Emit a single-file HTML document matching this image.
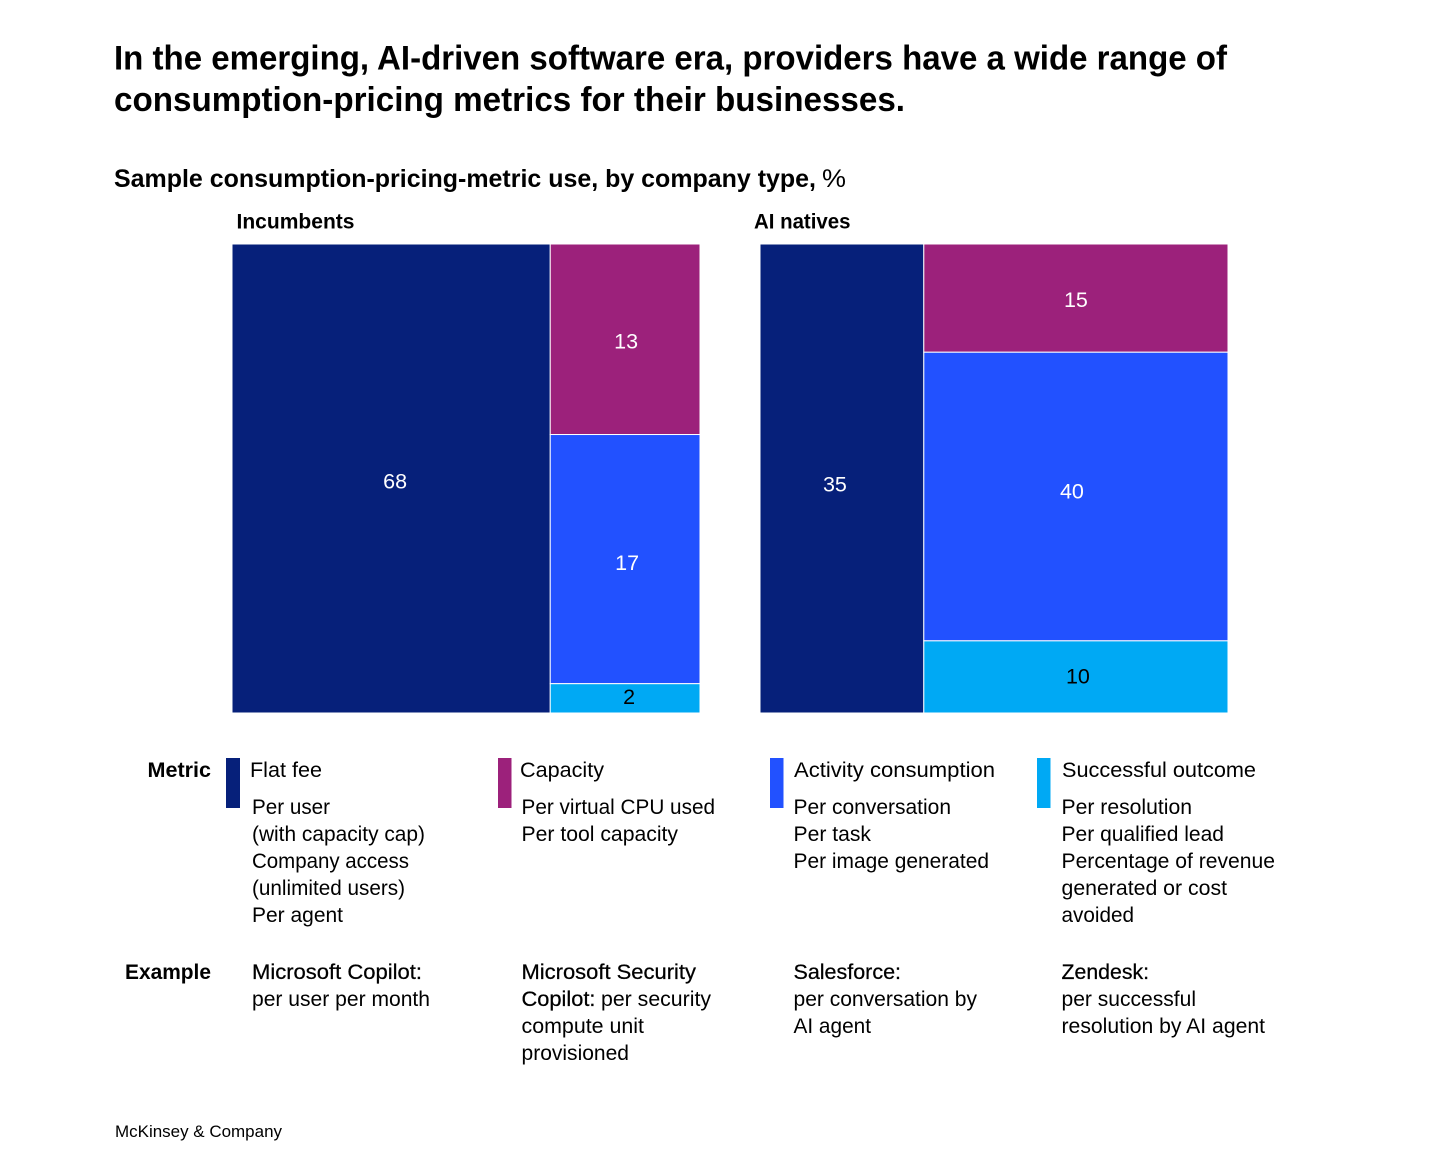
<!DOCTYPE html>
<html lang="en">
<head>
<meta charset="utf-8">
<title>Consumption-pricing metrics</title>
<style>
  html, body { margin: 0; padding: 0; background: #fff; }
  svg { display: block; }
  text { font-family: "Liberation Sans", sans-serif; fill: #000; }
  .title { font-size: 34.5px; font-weight: 700; }
  .subtitle { font-size: 25px; font-weight: 700; }
  .panel { font-size: 21px; font-weight: 700; }
  .rowhead { font-size: 21.5px; font-weight: 700; }
  .body { font-size: 21.5px; }
  .semi { font-size: 21.5px; stroke: #000; stroke-width: 0.25px; }
  .foot { font-size: 17px; }
  .val { font-size: 21.5px; text-anchor: middle; }
</style>
</head>
<body>
<svg id="page" xmlns="http://www.w3.org/2000/svg" width="1456" height="1170" viewBox="0 0 1456 1170">
  <rect width="1456" height="1170" fill="#fff"/>

  <g>
    <text class="title" x="114" y="69.5" textLength="1113" lengthAdjust="spacingAndGlyphs">In the emerging, AI-driven software era, providers have a wide range of</text>
    <text class="title" x="114" y="111" textLength="791" lengthAdjust="spacingAndGlyphs">consumption-pricing metrics for their businesses.</text>
  </g>
  <text class="subtitle" x="114" y="187" textLength="702" lengthAdjust="spacingAndGlyphs">Sample consumption-pricing-metric use, by company type,</text>
  <text x="822" y="187" font-size="25" textLength="24" lengthAdjust="spacingAndGlyphs">%</text>

  <text class="panel" x="236.5" y="228.5" textLength="118" lengthAdjust="spacingAndGlyphs">Incumbents</text>
  <text class="panel" x="754" y="228.5" textLength="96.5" lengthAdjust="spacingAndGlyphs">AI natives</text>

  <g id="mekko"></g>

  <text class="rowhead" x="147.5" y="777" textLength="63.5" lengthAdjust="spacingAndGlyphs">Metric</text>
  <text class="rowhead" x="125" y="979" textLength="86" lengthAdjust="spacingAndGlyphs">Example</text>

  <g>
    <rect x="226" y="758" width="14" height="50" fill="#06207a"/>
    <text class="body" x="250" y="777" textLength="72" lengthAdjust="spacingAndGlyphs">Flat fee</text>
    <text class="body" x="252" y="814" textLength="78" lengthAdjust="spacingAndGlyphs">Per user</text>
    <text class="body" x="252" y="841" textLength="173" lengthAdjust="spacingAndGlyphs">(with capacity cap)</text>
    <text class="body" x="252" y="868" textLength="157" lengthAdjust="spacingAndGlyphs">Company access</text>
    <text class="body" x="252" y="895" textLength="153" lengthAdjust="spacingAndGlyphs">(unlimited users)</text>
    <text class="body" x="252" y="922" textLength="91" lengthAdjust="spacingAndGlyphs">Per agent</text>
  </g>

  <g>
    <rect x="498" y="758" width="13.5" height="50" fill="#9c217b"/>
    <text class="body" x="520" y="777" textLength="84" lengthAdjust="spacingAndGlyphs">Capacity</text>
    <text class="body" x="521.5" y="814" textLength="193.5" lengthAdjust="spacingAndGlyphs">Per virtual CPU used</text>
    <text class="body" x="521.5" y="841" textLength="156.5" lengthAdjust="spacingAndGlyphs">Per tool capacity</text>
  </g>

  <g>
    <rect x="770" y="758" width="13.5" height="50" fill="#2251ff"/>
    <text class="body" x="794" y="777" textLength="201" lengthAdjust="spacingAndGlyphs">Activity consumption</text>
    <text class="body" x="793.5" y="814" textLength="157.5" lengthAdjust="spacingAndGlyphs">Per conversation</text>
    <text class="body" x="793.5" y="841" textLength="77.5" lengthAdjust="spacingAndGlyphs">Per task</text>
    <text class="body" x="793.5" y="868" textLength="195.5" lengthAdjust="spacingAndGlyphs">Per image generated</text>
  </g>

  <g>
    <rect x="1037" y="758" width="13.5" height="50" fill="#00a9f4"/>
    <text class="body" x="1062" y="777" textLength="194" lengthAdjust="spacingAndGlyphs">Successful outcome</text>
    <text class="body" x="1061.5" y="814" textLength="130.5" lengthAdjust="spacingAndGlyphs">Per resolution</text>
    <text class="body" x="1061.5" y="841" textLength="162.5" lengthAdjust="spacingAndGlyphs">Per qualified lead</text>
    <text class="body" x="1061.5" y="868" textLength="213.5" lengthAdjust="spacingAndGlyphs">Percentage of revenue</text>
    <text class="body" x="1061.5" y="895" textLength="165.5" lengthAdjust="spacingAndGlyphs">generated or cost</text>
    <text class="body" x="1061.5" y="922" textLength="72.5" lengthAdjust="spacingAndGlyphs">avoided</text>
  </g>

  <g>
    <text class="semi" x="252" y="979" textLength="170" lengthAdjust="spacingAndGlyphs">Microsoft Copilot:</text>
    <text class="body" x="252" y="1006" textLength="178" lengthAdjust="spacingAndGlyphs">per user per month</text>
  </g>
  <g>
    <text class="semi" x="521.5" y="979" textLength="174.5" lengthAdjust="spacingAndGlyphs">Microsoft Security</text>
    <text class="semi" x="521.5" y="1006" textLength="74" lengthAdjust="spacingAndGlyphs">Copilot:</text>
    <text class="body" x="601" y="1006" textLength="110" lengthAdjust="spacingAndGlyphs">per security</text>
    <text class="body" x="521.5" y="1033" textLength="122.5" lengthAdjust="spacingAndGlyphs">compute unit</text>
    <text class="body" x="521.5" y="1060" textLength="107.5" lengthAdjust="spacingAndGlyphs">provisioned</text>
  </g>
  <g>
    <text class="semi" x="793.5" y="979" textLength="107.5" lengthAdjust="spacingAndGlyphs">Salesforce:</text>
    <text class="body" x="793.5" y="1006" textLength="183.5" lengthAdjust="spacingAndGlyphs">per conversation by</text>
    <text class="body" x="793.5" y="1033" textLength="77.5" lengthAdjust="spacingAndGlyphs">AI agent</text>
  </g>
  <g>
    <text class="semi" x="1061.5" y="979" textLength="87.5" lengthAdjust="spacingAndGlyphs">Zendesk:</text>
    <text class="body" x="1061.5" y="1006" textLength="134.5" lengthAdjust="spacingAndGlyphs">per successful</text>
    <text class="body" x="1061.5" y="1033" textLength="203.5" lengthAdjust="spacingAndGlyphs">resolution by AI agent</text>
  </g>

  <text class="foot" x="115" y="1137" textLength="167" lengthAdjust="spacingAndGlyphs">McKinsey &amp; Company</text>
</svg>
<script>
// Chart data, in percent, one value per company type
const companyTypes = ['incumbents', 'ai-natives'];
const flatFee = [68, 35];
const capacity = [13, 15];
const activity = [17, 40];
const outcome = [2, 10];

// Layout
const plotTop = 244, plotHeight = 469, plotWidth = 468;
const plotLeft = 232, panelGap = 60;
const NS = 'http://www.w3.org/2000/svg';
const root = document.getElementById('mekko');

// Axis functions: widths are share of 100; heights are share of the right-hand column
function widthScale(v) { return v / 100 * plotWidth; }
function heightScale(v, columnTotal) { return v / columnTotal * plotHeight; }

// Small hand offsets of each printed value from its tile centre, per tile
const labelOffset = {
  'flat-fee': [[4, 10], [-7, 13]],
  'capacity': [[1, 9], [0, 9]],
  'activity': [[2, 11], [-4, 2]],
  'outcome': [[4, 5.5], [2, 6.5]]
};

function addTile(name, i, x, y, w, h, fill, value, textFill) {
  const r = document.createElementNS(NS, 'rect');
  
  
  r.setAttribute('x', x);
  r.setAttribute('y', y);
  r.setAttribute('width', w);
  r.setAttribute('height', h);
  r.setAttribute('fill', fill);
  r.setAttribute('stroke', '#fff');
  r.setAttribute('stroke-width', '1');
  root.appendChild(r);

  const t = document.createElementNS(NS, 'text');
  
  
  t.setAttribute('class', 'val');
  t.setAttribute('x', x + w / 2 + labelOffset[name][i][0]);
  t.setAttribute('y', y + h / 2 + labelOffset[name][i][1]);
  t.style.fill = textFill;
  t.textContent = value;
  root.appendChild(t);
}

companyTypes.forEach(function (type, i) {
  const left = plotLeft + i * (plotWidth + panelGap);
  const firstWidth = widthScale(flatFee[i]);
  addTile('flat-fee', i, left, plotTop, firstWidth, plotHeight, '#06207a', flatFee[i], '#fff');

  const columnTotal = capacity[i] + activity[i] + outcome[i];
  const columnX = left + firstWidth;
  const columnWidth = plotWidth - firstWidth;
  const stack = [
    ['capacity', capacity[i], '#9c217b', '#fff'],
    ['activity', activity[i], '#2251ff', '#fff'],
    ['outcome', outcome[i], '#00a9f4', '#000']
  ];
  let y = plotTop;
  stack.forEach(function (seg) {
    const h = heightScale(seg[1], columnTotal);
    addTile(seg[0], i, columnX, y, columnWidth, h, seg[2], seg[1], seg[3]);
    y += h;
  });
});
</script>
</body>
</html>
